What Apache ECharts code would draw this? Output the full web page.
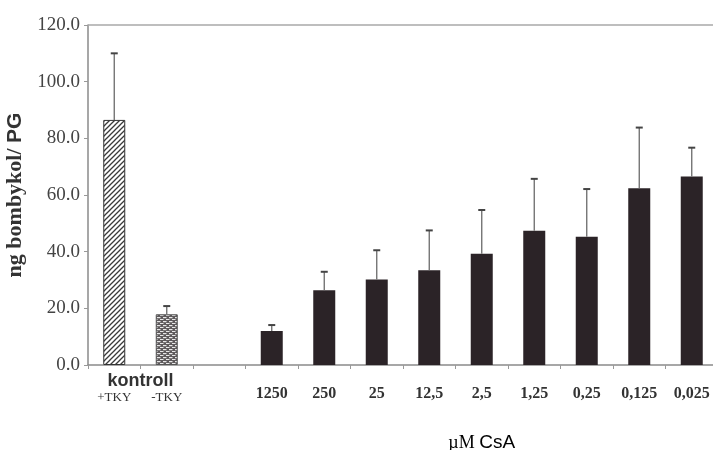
<!DOCTYPE html>
<html>
<head>
<meta charset="utf-8">
<script src="https://cdn.jsdelivr.net/npm/echarts@6/dist/echarts.min.js"></script>
<style>
html, body { margin: 0; padding: 0; background: #fff; }
#main { width: 713px; height: 450px; }
</style>
</head>
<body>
<div id="main"></div>
<script>
// data
var categories = ["+TKY", "-TKY", "", "1250", "250", "25", "12,5", "2,5", "1,25", "0,25", "0,125", "0,025"];
var means = [86.5, 17.9, null, 12.0, 26.4, 30.2, 33.4, 39.3, 47.4, 45.3, 62.4, 66.5];
var errors = [23.5, 2.9, null, 2.1, 6.5, 10.3, 14.1, 15.4, 18.3, 16.8, 21.4, 10.2];
var yMin = 0, yMax = 120, yStep = 20;

// fill patterns for the two control bars
function hatchPattern() {
    var c = document.createElement("canvas");
    c.width = 5; c.height = 5;
    var ctx = c.getContext("2d");
    ctx.fillStyle = "#fff";
    ctx.fillRect(0, 0, 5, 5);
    ctx.strokeStyle = "#3a3a3a";
    ctx.lineWidth = 1.3;
    ctx.beginPath();
    ctx.moveTo(-1, 6); ctx.lineTo(6, -1);
    ctx.moveTo(-1, 1); ctx.lineTo(1, -1);
    ctx.moveTo(4, 6); ctx.lineTo(6, 4);
    ctx.stroke();
    return c;
}

function brickPattern() {
    var c = document.createElement("canvas");
    c.width = 6; c.height = 4;
    var ctx = c.getContext("2d");
    ctx.fillStyle = "#5e5a5c";
    ctx.fillRect(0, 0, 6, 4);
    ctx.fillStyle = "#e8e8e8";
    ctx.fillRect(1, 1, 3.5, 1.2);
    ctx.fillRect(4, 3, 3.5, 1.2);
    ctx.fillRect(-2, 3, 3.5, 1.2);
    return c;
}

var barData = means.map(function(v, i) {
    var item = { value: v };
    if (i === 0) {
        item.itemStyle = { color: { image: hatchPattern(), repeat: "repeat" }, borderColor: "#333", borderWidth: 1 };
    } else if (i === 1) {
        item.itemStyle = { color: { image: brickPattern(), repeat: "repeat" }, borderColor: "#555", borderWidth: 1 };
    }
    return item;
});

var errData = [];
means.forEach(function(v, i) {
    if (v != null) errData.push([i, v, v + errors[i]]);
});

var myChart = echarts.init(document.getElementById("main"));

myChart.setOption({
    animation: false,
    grid: { left: 88, right: -5, top: 25, bottom: 85, outerBoundsMode: "none" },
    xAxis: {
        type: "category",
        data: categories,
        axisLine: { lineStyle: { color: "#8a8a8a", width: 1.5 } },
        axisTick: { show: true, length: 4, lineStyle: { color: "#999" } },
        axisLabel: {
            margin: 21,
            interval: 0,
            fontFamily: "Liberation Serif",
            fontWeight: "bold",
            fontSize: 16,
            color: "#333",
            formatter: function(v) {
                return v.indexOf("TKY") >= 0 ? "{t|" + v + "}" : v;
            },
            rich: {
                t: { fontFamily: "Liberation Serif", fontWeight: "normal", fontSize: 13, color: "#333", padding: [5, 0, 0, 0] }
            }
        }
    },
    yAxis: {
        type: "value",
        min: yMin,
        max: yMax,
        interval: yStep,
        name: "{a|ng bombykol/ }{b|PG}",
        nameLocation: "middle",
        nameGap: 60,
        nameTextStyle: {
            rich: {
                a: { fontFamily: "Liberation Serif", fontWeight: "bold", fontSize: 22, color: "#333" },
                b: { fontFamily: "Liberation Sans", fontWeight: "bold", fontSize: 21, color: "#333" }
            }
        },
        axisLine: { show: true, lineStyle: { color: "#8a8a8a", width: 1.5 } },
        axisTick: { show: true, length: 4, lineStyle: { color: "#999" } },
        splitLine: { show: false },
        axisLabel: {
            margin: 8,
            fontFamily: "Liberation Serif",
            fontSize: 19,
            color: "#444",
            formatter: function(v) { return v.toFixed(1); }
        }
    },
    series: [{
        type: "bar",
        data: barData,
        barWidth: 22,
        itemStyle: { color: "#2b2327" },
        markLine: {
            silent: true,
            symbol: "none",
            label: { show: false },
            lineStyle: { color: "#a8a8a8", width: 1.5, type: "solid" },
            data: [{ yAxis: yMax }]
        }
    }, {
        type: "custom",
        data: errData,
        z: 5,
        renderItem: function(params, api) {
            var lo = api.coord([api.value(0), api.value(1)]);
            var hi = api.coord([api.value(0), api.value(2)]);
            return {
                type: "group",
                children: [{
                    type: "line",
                    shape: { x1: lo[0], y1: lo[1], x2: hi[0], y2: hi[1] },
                    style: { stroke: "#6a6a6a", lineWidth: 1.3 }
                }, {
                    type: "line",
                    shape: { x1: hi[0] - 3.5, y1: hi[1], x2: hi[0] + 3.5, y2: hi[1] },
                    style: { stroke: "#444", lineWidth: 2 }
                }]
            };
        }
    }]
});

// group labels under the axis
var p0 = myChart.convertToPixel({ xAxisIndex: 0 }, 0);
var p1 = myChart.convertToPixel({ xAxisIndex: 0 }, 1);
var pa = myChart.convertToPixel({ xAxisIndex: 0 }, 3);
var pb = myChart.convertToPixel({ xAxisIndex: 0 }, 11);

myChart.setOption({
    graphic: [{
        type: "text",
        x: (p0 + p1) / 2,
        y: 381,
        style: {
            text: "kontroll",
            font: "bold 18px 'Liberation Sans'",
            fill: "#333",
            align: "center",
            verticalAlign: "middle"
        }
    }, {
        type: "text",
        x: (pa + pb) / 2,
        y: 443,
        style: {
            text: "{m|µM }{c|CsA}",
            rich: {
                m: { fontFamily: "Liberation Serif", fontSize: 18, color: "#333" },
                c: { fontFamily: "Liberation Sans", fontSize: 19, color: "#333" }
            },
            align: "center",
            verticalAlign: "middle"
        }
    }]
});
</script>
</body>
</html>
